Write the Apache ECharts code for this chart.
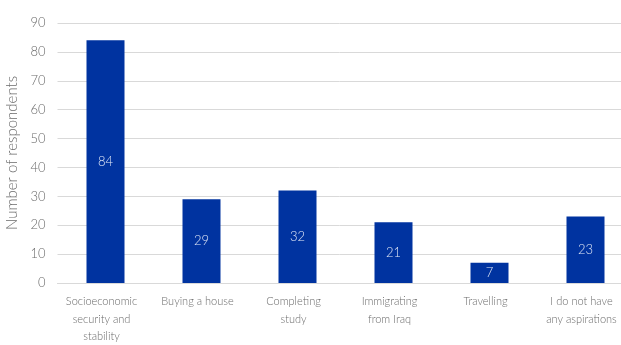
<!DOCTYPE html>
<html>
<head>
<meta charset="utf-8">
<script src="https://cdn.jsdelivr.net/npm/echarts@6/dist/echarts.min.js"></script>
<style>
  html, body { margin: 0; padding: 0; background: #fff; }
  #chart { width: 621px; height: 345px; }
</style>
</head>
<body>
<div id="chart"></div>
<script>
const categories = [
  'Socioeconomic\nsecurity and\nstability',
  'Buying a house',
  'Completing\nstudy',
  'Immigrating\nfrom Iraq',
  'Travelling',
  'I do not have\nany aspirations'
];
const respondents = [84, 29, 32, 21, 7, 23];
const yTicks = { min: 0, max: 90, interval: 10 };

const FONT = 'Lato';
const TEXT = '#6b6b6b';
const chart = echarts.init(document.getElementById('chart'));
chart.setOption({
  animation: false,
  textStyle: { fontFamily: FONT },
  grid: {
    left: 57.5, right: -12.5, top: 23, bottom: 62,
    containLabel: false, outerBoundsMode: 'none'
  },
  xAxis: {
    type: 'category',
    data: categories,
    axisLine: { show: true, lineStyle: { color: '#d9d9d9', width: 1 } },
    axisTick: { show: false },
    axisLabel: {
      color: TEXT, fontFamily: FONT, fontWeight: 300, fontSize: 11, lineHeight: 17.5,
      margin: 10, interval: 0, padding: [0, 8, 0, 0]
    }
  },
  yAxis: {
    type: 'value',
    min: yTicks.min, max: yTicks.max, interval: yTicks.interval,
    name: 'Number of respondents',
    nameLocation: 'middle',
    nameGap: 34,
    nameTextStyle: { color: TEXT, fontFamily: FONT, fontWeight: 300, fontSize: 15 },
    axisLine: { show: false },
    axisTick: { show: false },
    axisLabel: { color: TEXT, fontFamily: FONT, fontWeight: 300, fontSize: 13, margin: 12 },
    splitLine: { lineStyle: { color: '#d9d9d9', width: 1 } }
  },
  series: [{
    type: 'bar',
    data: respondents,
    barWidth: 38,
    itemStyle: { color: '#0033a0' },
    label: {
      show: true, position: 'inside', color: '#dfe6f5',
      fontFamily: FONT, fontWeight: 300, fontSize: 13
    }
  }]
});
</script>
</body>
</html>
